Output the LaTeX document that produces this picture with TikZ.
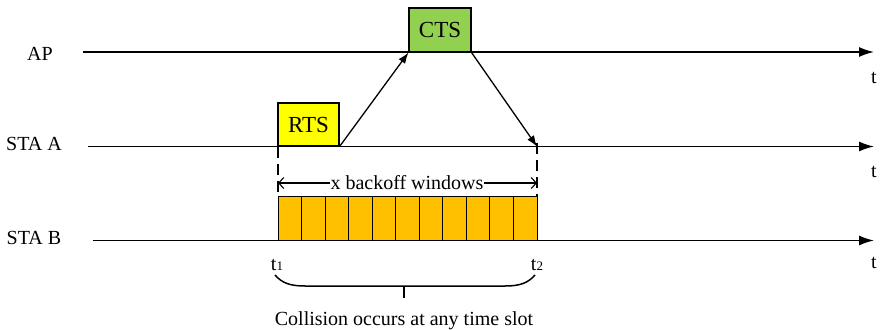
\documentclass[tikz,border=0pt]{standalone}
\usepackage{fontspec}
\setmainfont{Liberation Serif}
\usetikzlibrary{arrows.meta}
\definecolor{ctsgreen}{HTML}{92D050}
\definecolor{rtsyellow}{HTML}{FFFF00}
\definecolor{slotorange}{HTML}{FFC000}
\begin{document}
\begin{tikzpicture}[x=1pt,y=-1pt,
  lbl/.style={font=\fontsize{20}{23}\selectfont, inner sep=0pt, anchor=base},
  timeline/.style={line width=1.5pt, -{Latex[length=15pt,width=10pt]}},
  msg/.style={line width=1.3pt, -{Latex[length=11pt,width=8pt]}},
  frame/.style={draw, line width=1.1pt, inner sep=0pt, font=\fontsize{23}{26}\selectfont},
  slot/.style={draw, fill=slotorange, line width=0.9pt},
  guide/.style={line width=1.1pt, dash pattern=on 11pt off 6pt},
  span/.style={line width=1.1pt, {Straight Barb[length=5pt,width=11pt]}-{Straight Barb[length=5pt,width=11pt]}},
  brace/.style={line width=1.5pt}
]
\useasboundingbox (0,0) rectangle (882,329);

% station labels
\node[lbl] (lap) at (40,60) {AP};
\node[lbl] (lsta) at (34,150) {STA A};
\node[lbl] (lstb) at (34,244) {STA B};

% timelines
\coordinate (apS) at (83,52);   \coordinate (apE) at (874,52);
\coordinate (saS) at (88,146.5);  \coordinate (saE) at (874,146.5);
\coordinate (sbS) at (93,240.5);  \coordinate (sbE) at (874,240.5);
\draw[timeline] (apS) -- (apE);
\draw[timeline] (saS) -- (saE);
\draw[timeline] (sbS) -- (sbE);

\node[lbl] (tap) at (874,83) {t};
\node[lbl] (tsa) at (874,177) {t};
\node[lbl] (tsb) at (874,268) {t};

% frames
\node[frame, fill=ctsgreen, minimum width=62pt, minimum height=44pt] (cts) at (440,30) {CTS};
\node[frame, fill=rtsyellow, minimum width=61pt, minimum height=43pt] (rts) at (308.5,124.5) {RTS};

% messages
\coordinate (ctsdst) at (537,146.5);
\draw[msg] (rts.south east) -- (cts.south west);
\draw[msg] (cts.south east) -- (ctsdst);

% guides
\coordinate (g1t) at (278,146.5); \coordinate (g1b) at (278,196);
\coordinate (g2t) at (537,143);   \coordinate (g2b) at (537,196);
\draw[guide] (g1t) -- (g1b);
\draw[guide] (g2t) -- (g2b);

% backoff slots
\foreach \i in {0,...,10}{
  \draw[slot] ({278+\i*259/11},196) rectangle ({278+(\i+1)*259/11},240.5);
}

% span arrow
\coordinate (sp1) at (278,183); \coordinate (sp2) at (537,183);
\draw[span] (sp1) -- (sp2);
\node[lbl, fill=white, inner xsep=1pt, inner ysep=2pt] (xbw) at (407,189) {x backoff windows};

% t1, t2
\node[lbl] (t1) at (277,270) {t{\fontsize{13}{13}\selectfont 1}};
\node[lbl] (t2) at (537,270) {t{\fontsize{13}{13}\selectfont 2}};

% brace
\coordinate (bL) at (275,275); \coordinate (bR) at (535,275);
\coordinate (bM) at (404,286); \coordinate (bT) at (404,298);
\draw[brace] (bL) .. controls (282,283) and (290,286) .. (305,286) -- (505,286) .. controls (520,286) and (528,283) .. (bR);
\draw[line width=1.8pt] (bM) -- (bT);

\node[lbl] (coll) at (404,325) {Collision occurs at any time slot};
\end{tikzpicture}
\end{document}
